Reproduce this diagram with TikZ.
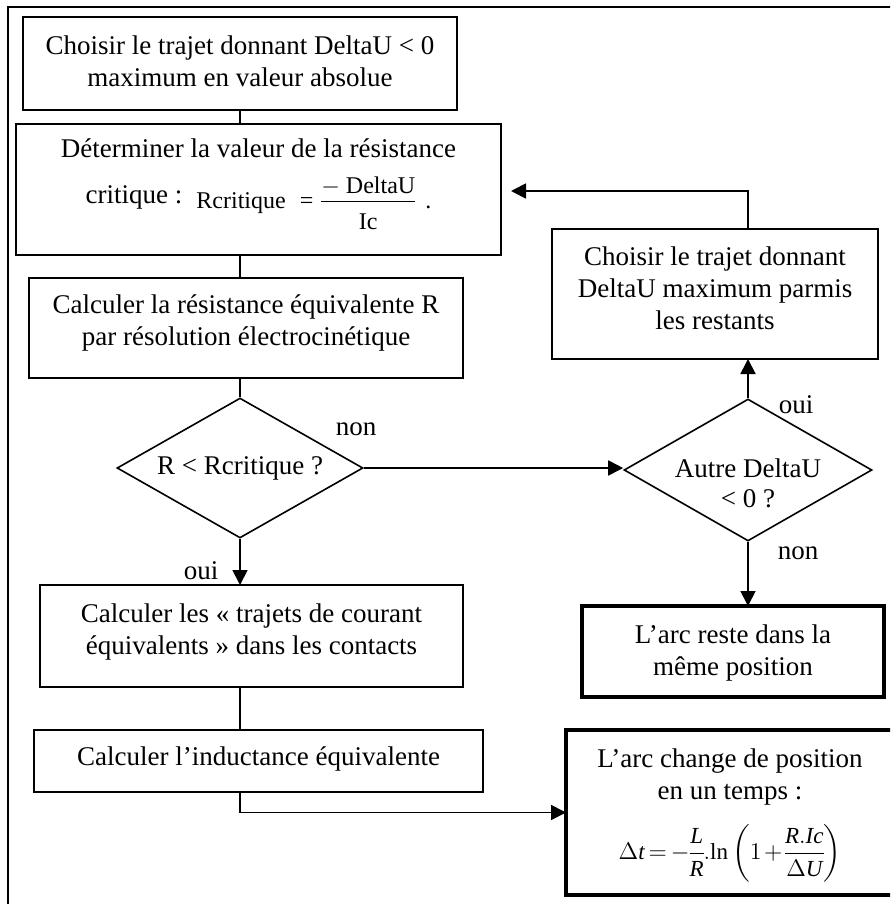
\documentclass[tikz,border=0pt]{standalone}
\usepackage{fontspec}
\setmainfont{Liberation Serif}
\usepackage{amsmath}
\usetikzlibrary{arrows.meta,shapes.geometric}
\newcommand\boxtext[4]{\parbox[c][#2][t]{#1}{\centering\rule{0pt}{#3}#4\par}}
\begin{document}
\begin{tikzpicture}[x=0.5pt,y=-0.5pt,
  every node/.style={font=\fontsize{13.5}{16}\selectfont},
  box/.style={draw, line width=0.8pt, inner sep=0pt, outer sep=0pt, anchor=north west, rectangle},
  thickbox/.style={box, line width=1.6pt},
  dia/.style={draw, line width=0.8pt, diamond, inner sep=0pt, aspect=1.76},
  lbl/.style={anchor=base, inner sep=0pt},
  link/.style={line width=0.9pt},
  arr/.style={link, -{Triangle[length=7.5pt,width=7.5pt]}},
  frame/.style={line width=0.8pt}]
\path[use as bounding box] (0,0) rectangle (890,904);
\fill[white] (0,0) rectangle (890,904);
\clip (0,0) rectangle (890,904);

\draw[frame] (8,915) -- (8,7) -- (900,7);

\node[box] (b1) at (23,17) {\boxtext{217pt}{46.5pt}{19pt}{Choisir le trajet donnant DeltaU < 0\\maximum en valeur absolue}};
\node[box] (b2) at (16,124) {\boxtext{242.5pt}{65.5pt}{16.5pt}{Déterminer la valeur de la résistance\\[7pt]critique :\hspace{7pt}\raisebox{-2.5pt}{\fontsize{12}{14}\selectfont Rcritique\hspace{7pt}=\hspace{4pt}\raisebox{7.5pt}{\begin{tabular}[t]{@{}c@{}}$-$\hspace{3pt}DeltaU\\\hline\rule{0pt}{13.6pt}Ic\end{tabular}}\hspace{5pt}.}}};
\node[box] (b3) at (29,278) {\boxtext{217pt}{50pt}{17.5pt}{Calculer la résistance équivalente R\\par résolution électrocinétique}};
\node[dia, minimum width=123pt, minimum height=70pt] (d1) at (240,468) {R < Rcritique ?};
\node[box] (b4) at (40,585) {\boxtext{211.5pt}{51pt}{18.5pt}{Calculer les «~trajets de courant\\équivalents~» dans les contacts}};
\node[box] (b5) at (34,730) {\boxtext{224.5pt}{31pt}{17.5pt}{Calculer l’inductance équivalente}};
\node[box] (bR) at (552,229) {\boxtext{163pt}{65pt}{18pt}{Choisir le trajet donnant\\DeltaU maximum parmis\\les restants}};
\node[dia, minimum width=124pt, minimum height=71pt] (d2) at (748,470) {};
\node[anchor=base, inner sep=0pt] (d2t) at (748,477) {\parbox[t]{90pt}{\centering\fontsize{13.5}{15}\selectfont Autre DeltaU\\< 0 ?\par}};
\node[thickbox] (br) at (582,606) {\boxtext{151pt}{45.5pt}{18.5pt}{L’arc reste dans la\\même position}};
\node[thickbox] (bf) at (566,730) {\boxtext{164pt}{82.5pt}{18.5pt}{L’arc change de position\\en un temps :\\[9pt]{\fontsize{11.5}{16}\selectfont\medmuskip=2mu\thickmuskip=3mu\nulldelimiterspace=0pt$\Delta\mathit{t}=-\dfrac{\mathit{L}}{\mathit{R}}.\mathrm{ln}\left(1+\dfrac{\mathit{R.Ic}}{\Delta\mathit{U}}\right)$}}};

\node[lbl] (n1) at (356,435) {non};
\node[lbl] (o1) at (796,413) {oui};
\node[lbl] (n2) at (798,559) {non};
\node[lbl] (o2) at (201,579) {oui};

\coordinate (fb) at (511,191);

\draw[link] (b1.south) -- (b1.south |- b2.north);
\draw[link] (d1.north |- b2.south) -- (d1.north |- b3.north);
\draw[link] (d1.north |- b3.south) -- (d1.north);
\draw[arr] (d1.south) -- (d1.south |- b4.north);
\draw[link] (d1.south |- b4.south) -- (d1.south |- b5.north);
\draw[arr] (d1.south |- b5.south) |- (bf.west);
\draw[arr] (d1.east) -- (d1.east -| d2.west);
\draw[arr] (d2.north) -- (d2.north |- bR.south);
\draw[arr] (bR.north -| d2.north) |- (fb);
\draw[arr] (d2.south) -- (d2.south |- br.north);
\end{tikzpicture}
\end{document}
